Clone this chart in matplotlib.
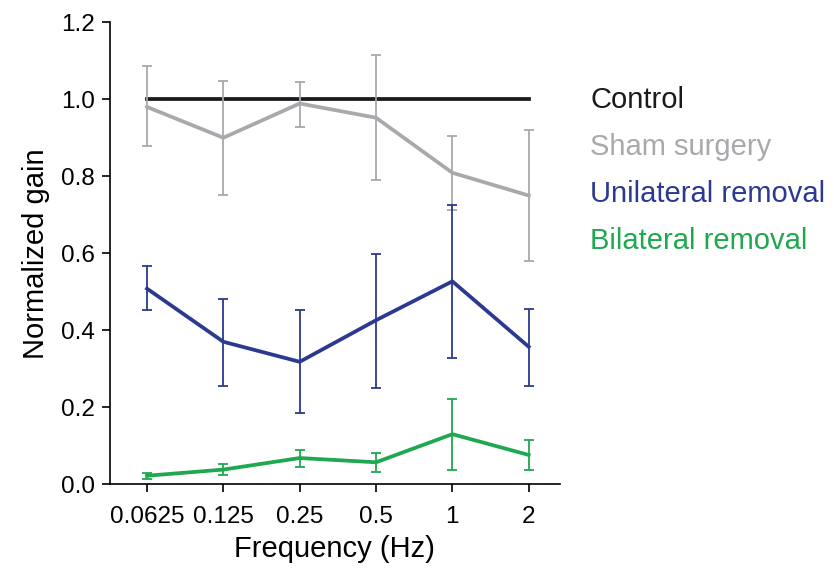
import numpy as np
import matplotlib.pyplot as plt
from matplotlib.ticker import FixedLocator, FixedFormatter, NullLocator

plt.rcParams['font.family'] = ['Liberation Sans', 'DejaVu Sans']

freqs = [0.0625, 0.125, 0.25, 0.5, 1, 2]
freq_labels = ["0.0625", "0.125", "0.25", "0.5", "1", "2"]

control = [1.0, 1.0, 1.0, 1.0, 1.0, 1.0]

sham = [0.98, 0.90, 0.989, 0.952, 0.809, 0.75]
sham_hi = [1.086, 1.048, 1.046, 1.114, 0.904, 0.919]
sham_lo = [0.878, 0.751, 0.929, 0.790, 0.712, 0.579]

uni = [0.508, 0.370, 0.318, 0.426, 0.527, 0.357]
uni_hi = [0.566, 0.481, 0.452, 0.597, 0.726, 0.455]
uni_lo = [0.452, 0.256, 0.185, 0.251, 0.329, 0.256]

bi = [0.022, 0.038, 0.068, 0.057, 0.130, 0.076]
bi_hi = [0.030, 0.052, 0.090, 0.081, 0.222, 0.114]
bi_lo = [0.014, 0.024, 0.045, 0.033, 0.038, 0.038]

c_black = "#1a1a1a"
c_gray = "#a7a9ac"
c_blue = "#2b3990"
c_green = "#1fa84f"

fig = plt.figure(figsize=(8.34, 5.71), dpi=100)
ax = fig.add_axes([0.132, 0.152, 0.539, 0.809])


def draw(y, lo, hi, color, z):
    y = np.array(y)
    err = [y - np.array(lo), np.array(hi) - y]
    ax.errorbar(freqs, y, yerr=err, color=color, lw=2.7, elinewidth=1.3,
                capsize=3.5, capthick=1.3, zorder=z)


draw(sham, sham_lo, sham_hi, c_gray, 3)
ax.plot(freqs, control, color=c_black, lw=2.7, zorder=2)
draw(uni, uni_lo, uni_hi, c_blue, 4)
draw(bi, bi_lo, bi_hi, c_green, 5)

ax.set_xscale("log", base=2)
ax.set_xlim(0.0625 * 2 ** -0.484, 2 * 2 ** 0.405)
ax.set_ylim(0, 1.2)
ax.xaxis.set_major_locator(FixedLocator(freqs))
ax.xaxis.set_major_formatter(FixedFormatter(freq_labels))
ax.xaxis.set_minor_locator(NullLocator())
ax.set_yticks([0, 0.2, 0.4, 0.6, 0.8, 1.0, 1.2])
ax.set_yticklabels(["0.0", "0.2", "0.4", "0.6", "0.8", "1.0", "1.2"])

for s in ["top", "right"]:
    ax.spines[s].set_visible(False)
for s in ["left", "bottom"]:
    ax.spines[s].set_linewidth(1.2)
ax.tick_params(direction="out", length=6, width=1.2, labelsize=17.5, pad=5)
ax.tick_params(axis="x", pad=10)

ax.set_xlabel("Frequency (Hz)", fontsize=21, labelpad=5)
ax.set_ylabel("Normalized gain", fontsize=21, labelpad=8)

labels = ["Control", "Sham surgery", "Unilateral removal", "Bilateral removal"]
colors = [c_black, c_gray, c_blue, c_green]
for i, (t, c) in enumerate(zip(labels, colors)):
    fig.text(590 / 834, 1 - (100 + 47 * i) / 571, t, color=c, fontsize=21, va="center", ha="left")

fig.savefig("out.png", dpi=100)
